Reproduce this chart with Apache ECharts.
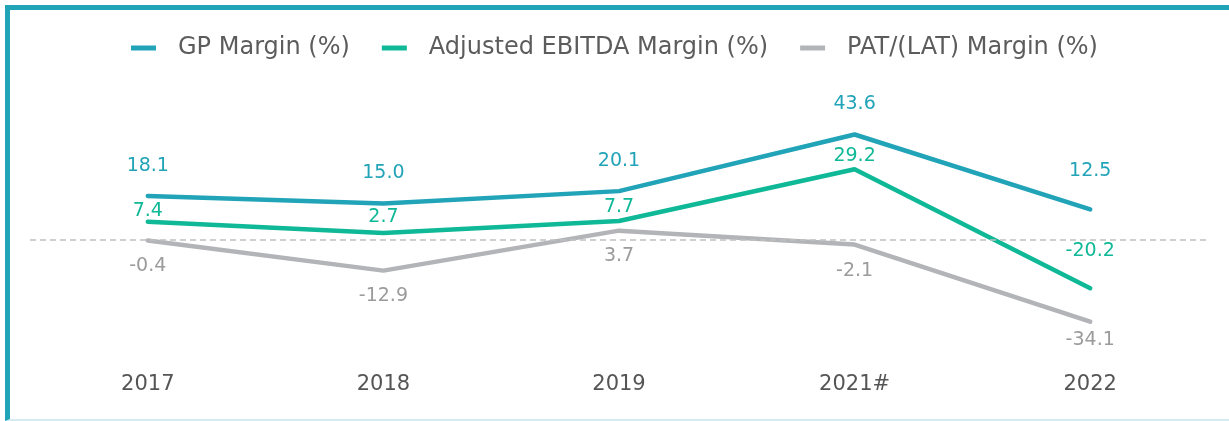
<!DOCTYPE html>
<html>
<head>
<meta charset="utf-8">
<script src="https://cdn.jsdelivr.net/npm/echarts@6/dist/echarts.min.js"></script>
<style>
  html, body { margin: 0; padding: 0; background: #fff; }
  #frame {
    position: absolute; left: 5px; top: 5px; right: 0; bottom: 0;
    border-top: 5px solid #21a3b8; border-left: 5px solid #21a3b8;
    border-bottom: 2px solid #d3ebf1;
  }
  #chart { position: absolute; left: 0; top: 0; width: 1229px; height: 421px; }
</style>
</head>
<body>
<div id="frame"></div>
<div id="chart"></div>
<script>
// data
var years = ['2017', '2018', '2019', '2021#', '2022'];
var gpMargin = [18.1, 15.0, 20.1, 43.6, 12.5];
var ebitdaMargin = [7.4, 2.7, 7.7, 29.2, -20.2];
var patMargin = [-0.4, -12.9, 3.7, -2.1, -34.1];

// label gaps per point (style only)
var gpGap = [20, 21, 21, 21, 29];
var ebitdaGap = [1, 6, 4, 4, 28];
var patGap = [16, 16, 16, 17, 9];

var chart = echarts.init(document.getElementById('chart'));

function points(values, gaps) {
  return values.map(function (v, i) {
    return { value: v, label: { distance: gaps[i] } };
  });
}

var fontName = '"DejaVu Sans", sans-serif';

function makeLine(name, values, gaps, color, labelColor, pos, z) {
  return {
    name: name,
    type: 'line',
    data: points(values, gaps),
    symbol: 'circle',
    symbolSize: 0.1,
    showSymbol: true,
    color: color,
    lineStyle: { width: 4.5, cap: 'round' },
    label: { show: true, position: pos, fontFamily: fontName, fontSize: 19, color: labelColor,
      formatter: function (p) { return Number(p.value).toFixed(1); } },
    z: z
  };
}

var gpSeries = makeLine('GP Margin (%)', gpMargin, gpGap, '#21a3b8', '#21a3b8', 'top', 4);
gpSeries.markLine = {
  silent: true,
  symbol: 'none',
  label: { show: false },
  lineStyle: { color: '#c0c0c0', type: [6, 4], width: 1.5 },
  data: [{ yAxis: 0 }]
};

var option = {
  animation: false,
  legend: {
    top: 31,
    left: 'center',
    icon: 'rect',
    itemWidth: 25,
    itemHeight: 5,
    itemGap: 32,
    textStyle: { fontFamily: fontName, fontSize: 24, color: '#5c5c5c', padding: [0, 0, 0, 17] },
    data: ['GP Margin (%)', 'Adjusted EBITDA Margin (%)', 'PAT/(LAT) Margin (%)']
  },
  grid: { left: 30, right: 21, top: 95, bottom: 61 },
  xAxis: {
    type: 'category',
    data: years,
    axisLine: { show: false },
    axisTick: { show: false },
    axisLabel: { margin: 14, fontFamily: fontName, fontSize: 21, color: '#555' }
  },
  yAxis: {
    type: 'value',
    min: -50,
    max: 60,
    show: false,
    splitLine: { show: false }
  },
  series: [
    gpSeries,
    makeLine('Adjusted EBITDA Margin (%)', ebitdaMargin, ebitdaGap, '#0fb896', '#0fb896', 'top', 3),
    makeLine('PAT/(LAT) Margin (%)', patMargin, patGap, '#b2b4b7', '#9b9b9b', 'bottom', 2)
  ]
};

chart.setOption(option);
</script>
</body>
</html>
